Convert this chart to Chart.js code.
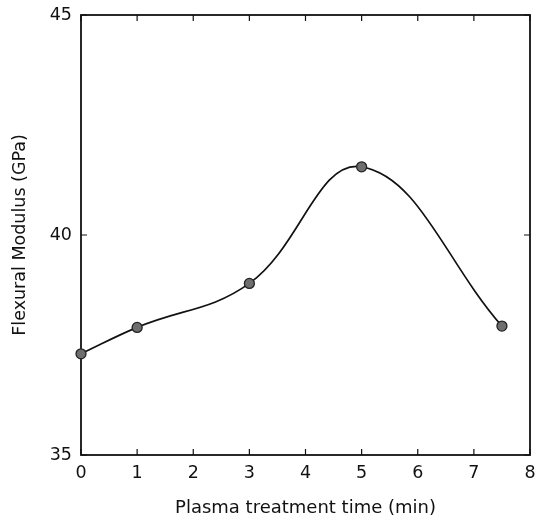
<!DOCTYPE html>
<html>
<head>
<meta charset="utf-8">
<script src="https://cdn.jsdelivr.net/npm/chart.js@4.4.1/dist/chart.umd.min.js"></script>
<style>
  html, body { margin: 0; padding: 0; background: #fff; }
  #wrap { width: 540px; height: 522px; }
</style>
</head>
<body>
<div id="wrap"><canvas id="modulusChart"></canvas></div>
<script>
// Plasma treatment time (min) and flexural modulus (GPa)
const treatTimes = [0, 1, 3, 5, 7.5];
const modulusValues = [37.3, 37.9, 38.9, 41.55, 37.93];
const xTickValues = [0, 1, 2, 3, 4, 5, 6, 7, 8];
const yTickValues = [35, 40, 45];

const FONT = "'DejaVu Sans', sans-serif";

// draws the box round the plot and the small inward ticks on all four sides
const frameTicks = {
    id: 'frameTicks',
    beforeDatasetsDraw(chart) {
        const { ctx, chartArea: a, scales } = chart;
        const len = 6;
        ctx.save();
        ctx.strokeStyle = '#111';
        ctx.lineWidth = 1.8;
        ctx.strokeRect(a.left, a.top, a.right - a.left, a.bottom - a.top);
        ctx.lineWidth = 1.2;
        ctx.beginPath();
        xTickValues.forEach(v => {
            const px = scales.x.getPixelForValue(v);
            ctx.moveTo(px, a.bottom); ctx.lineTo(px, a.bottom - len);
            ctx.moveTo(px, a.top); ctx.lineTo(px, a.top + len);
        });
        yTickValues.forEach(v => {
            const py = scales.y.getPixelForValue(v);
            ctx.moveTo(a.left, py); ctx.lineTo(a.left + len, py);
            ctx.moveTo(a.right, py); ctx.lineTo(a.right - len, py);
        });
        ctx.stroke();
        ctx.restore();
    }
};

new Chart(document.getElementById('modulusChart').getContext('2d'), {
    type: 'line',
    data: {
        datasets: [{
            data: treatTimes.map((t, i) => ({ x: t, y: modulusValues[i] })),
            borderColor: '#111',
            borderWidth: 1.7,
            tension: 0.4,
            pointRadius: 5,
            pointBackgroundColor: '#6e6e6e',
            pointBorderColor: '#222',
            pointBorderWidth: 1.3,
            clip: false
        }]
    },
    options: {
        responsive: true,
        maintainAspectRatio: false,
        animation: false,
        layout: { padding: { left: 0, right: 10, top: 15, bottom: 0 } },
        plugins: {
            legend: { display: false },
            tooltip: { enabled: false }
        },
        scales: {
            x: {
                type: 'linear',
                min: 0,
                max: 8,
                afterBuildTicks: s => { s.ticks = xTickValues.map(v => ({ value: v })); },
                afterFit: s => { s.height = 67; s.paddingLeft = 0; s.paddingRight = 0; },
                grid: { display: false, drawTicks: false },
                border: { display: false },
                ticks: { color: '#111', font: { family: FONT, size: 17.5 }, padding: 8 },
                title: {
                    display: true,
                    text: 'Plasma treatment time (min)',
                    color: '#111',
                    font: { family: FONT, size: 18 },
                    padding: { top: 0, bottom: 3 }
                }
            },
            y: {
                min: 35,
                max: 45,
                afterBuildTicks: s => { s.ticks = yTickValues.map(v => ({ value: v })); },
                afterFit: s => { s.width = 81; s.paddingTop = 0; s.paddingBottom = 0; },
                grid: { display: false, drawTicks: false },
                border: { display: false },
                ticks: { color: '#111', font: { family: FONT, size: 17.5 }, padding: 9 },
                title: {
                    display: true,
                    text: 'Flexural Modulus (GPa)',
                    color: '#111',
                    font: { family: FONT, size: 17.5 },
                    padding: { top: 10, bottom: 0 }
                }
            }
        }
    },
    plugins: [frameTicks]
});
</script>
</body>
</html>
